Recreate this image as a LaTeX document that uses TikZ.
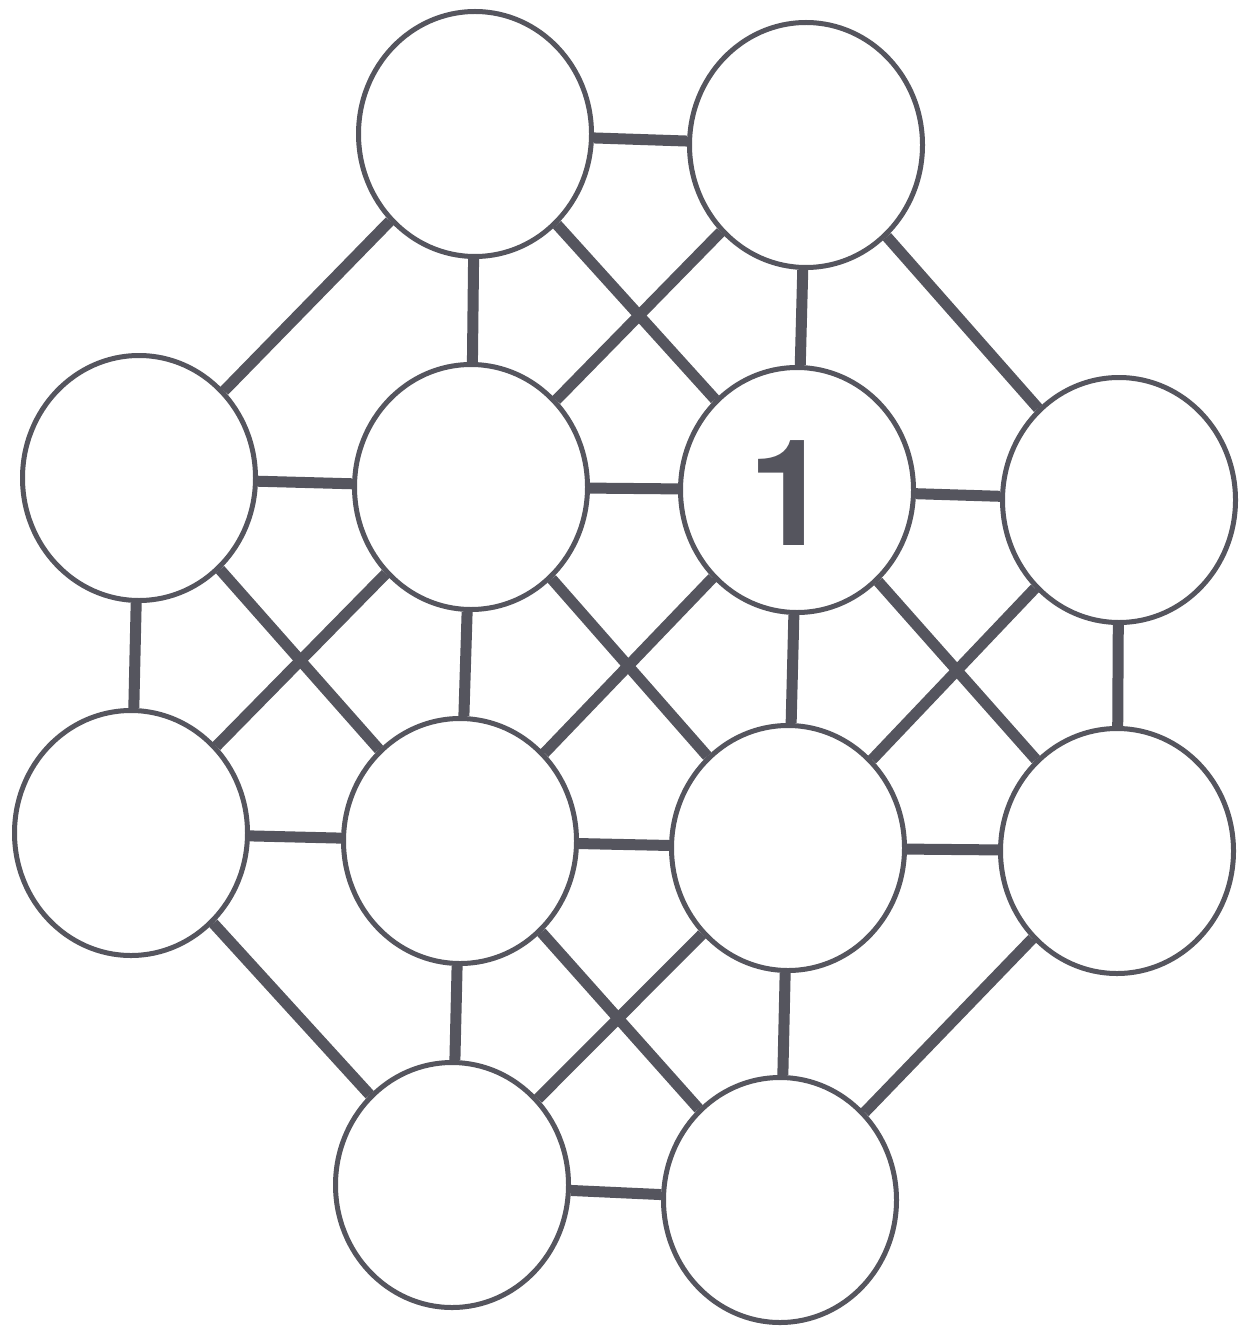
\documentclass[tikz,border=0pt]{standalone}
\usepackage{fontspec}
\newfontfamily\heros{TeX Gyre Heros}
\usetikzlibrary{shapes.geometric}
\definecolor{ink}{HTML}{55555E}
\tikzset{
  cell/.style={ellipse, draw=ink, line width=5pt, fill=white, inner sep=0pt,
    minimum width=233pt, minimum height=245pt},
  link/.style={draw=ink, line width=11pt}
}
\begin{document}
\begin{tikzpicture}[x=1pt,y=-1pt]
\useasboundingbox[fill=white] (0,0) rectangle (1251,1332);
\node[cell] (A) at (475,134) {};
\node[cell] (B) at (806,145) {};
\node[cell] (C) at (139,478) {};
\node[cell] (D) at (471,487) {};
\node[cell] (E) at (797,490) {};
\node[cell] (F) at (1119,500) {};
\node[cell] (G) at (131,833) {};
\node[cell] (H) at (460,841) {};
\node[cell] (I) at (788,848) {};
\node[cell] (J) at (1117,851) {};
\node[cell] (K) at (452,1185) {};
\node[cell] (L) at (780,1200) {};
\foreach \u/\v in {A/B,A/C,A/D,A/E,B/D,B/E,B/F,C/D,D/E,E/F,C/G,C/H,D/G,D/H,D/I,E/H,E/I,E/J,F/I,F/J,G/H,H/I,I/J,G/K,H/K,H/L,I/K,I/L,J/L,K/L}
  \draw[link] (\u) -- (\v);
\node[text=ink, inner sep=0pt, font=\heros\bfseries\fontsize{148}{148}\selectfont] (one) at (790,493) {1};
\end{tikzpicture}
\end{document}
